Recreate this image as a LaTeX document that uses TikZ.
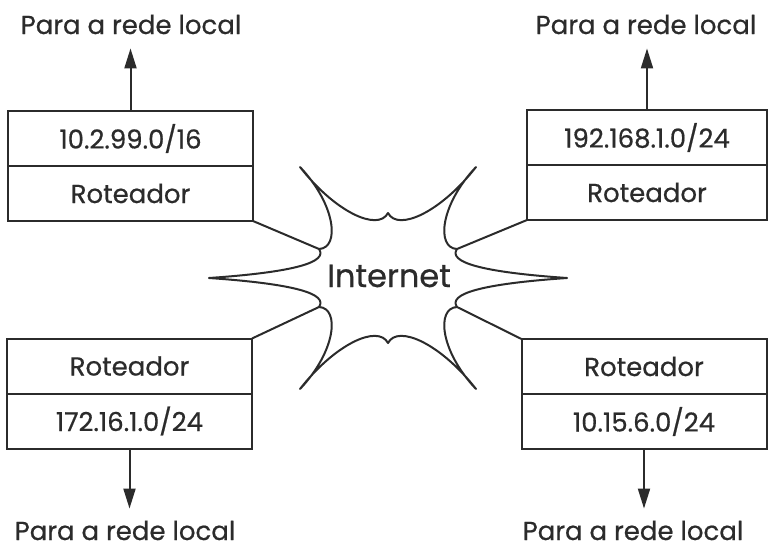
\documentclass[tikz,border=0pt]{standalone}
\usepackage{fontspec}
\setmainfont{Poppins}[FakeBold=0.6]
\usepackage{tikz}
\usetikzlibrary{positioning,arrows.meta}
\definecolor{netgray}{HTML}{2B2B2B}

\tikzset{
  cell/.style={draw=netgray, line width=2pt, outer sep=0pt, inner sep=0pt,
    minimum width=245pt, minimum height=55pt, text=netgray,
    font=\fontsize{26}{30}\selectfont},
  lanlabel/.style={anchor=base, inner sep=0pt, text=netgray,
    font=\fontsize{26}{30}\selectfont},
  lanarrow/.style={draw=netgray, line width=2pt,
    -{Triangle[length=20pt,width=12pt]}},
  link/.style={draw=netgray, line width=2pt, line join=round},
}

\begin{document}
\begin{tikzpicture}[x=1pt,y=-1pt]
  \useasboundingbox (0,0) rectangle (769,549);

  % routers
  \node[cell] (tlnet) at (130.5,138.5) {10.2.99.0/16};
  \node[cell, below=0pt of tlnet] (tlrt) {Roteador};
  \node[cell, minimum width=240pt] (trnet) at (647,137.5) {192.168.1.0/24};
  \node[cell, minimum width=240pt, below=0pt of trnet] (trrt) {Roteador};
  \node[cell] (blrt) at (129.5,366) {Roteador};
  \node[cell, below=0pt of blrt] (blnet) {172.16.1.0/24};
  \node[cell] (brrt) at (644,366.5) {Roteador};
  \node[cell, below=0pt of brrt] (brnet) {10.15.6.0/24};

  % local networks
  \node[lanlabel] (tllan) at (131,34) {Para a rede local};
  \node[lanlabel] (trlan) at (646,34) {Para a rede local};
  \node[lanlabel] (bllan) at (125,540) {Para a rede local};
  \node[lanlabel] (brlan) at (633,540) {Para a rede local};

  \draw[lanarrow, shorten >=14pt] (tlnet.north) -- (tlnet.north |- tllan.south);
  \draw[lanarrow, shorten >=14pt] (trnet.north) -- (trnet.north |- trlan.south);
  \draw[lanarrow, shorten >=12pt] (blnet.south) -- (blnet.south |- bllan.north);
  \draw[lanarrow, shorten >=12pt] (brnet.south) -- (brnet.south |- brlan.north);

  % internet cloud
  \coordinate (vul) at (319,249);
  \coordinate (vur) at (457,249);
  \coordinate (vll) at (319,307);
  \coordinate (vlr) at (457,307);
  \draw[link] (209,278) .. controls (296,272) and (328,262) .. (vul)
    .. controls (340,248) and (336,205) .. (300,167)
    .. controls (335,212) and (378,232) .. (388,213)
    .. controls (398,232) and (441,212) .. (476,167)
    .. controls (440,205) and (436,248) .. (vur)
    .. controls (448,262) and (480,272) .. (567,278)
    .. controls (480,284) and (448,294) .. (vlr)
    .. controls (436,308) and (440,351) .. (476,389)
    .. controls (441,344) and (398,324) .. (388,343)
    .. controls (378,324) and (335,344) .. (300,389)
    .. controls (336,351) and (340,308) .. (vll)
    .. controls (328,294) and (296,284) .. (209,278) -- cycle;
  \node[text=netgray, font=\fontsize{32}{36}\selectfont] (inet) at (389,276) {Internet};

  \draw[link] (tlrt.south east) -- (vul);
  \draw[link] (trrt.south west) -- (vur);
  \draw[link] (blrt.north east) -- (vll);
  \draw[link] (brrt.north west) -- (vlr);
\end{tikzpicture}
\end{document}
